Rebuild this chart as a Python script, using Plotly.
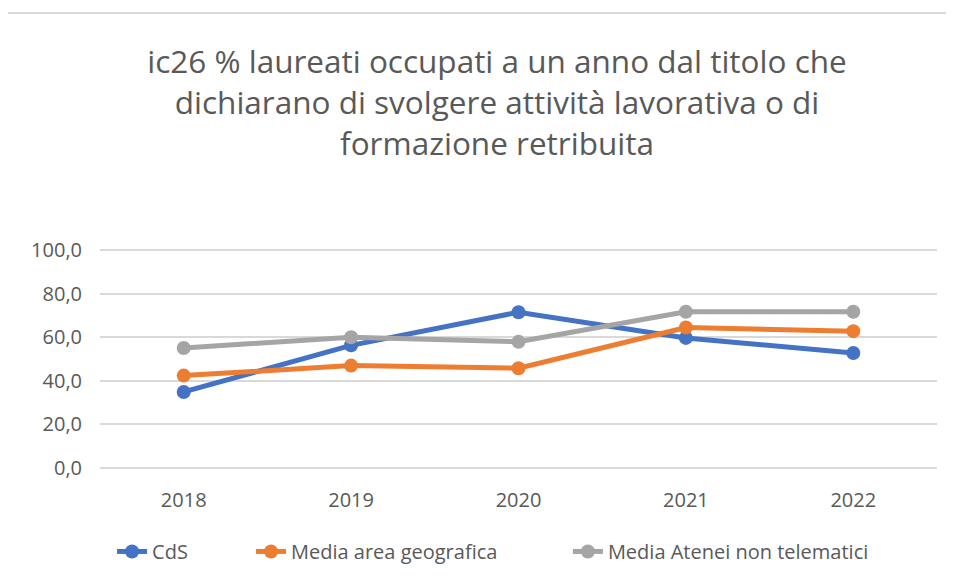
import plotly.graph_objects as go

# Values
anni = ["2018", "2019", "2020", "2021", "2022"]
cds = [34.9, 56.3, 71.5, 59.7, 52.8]
media_area = [42.4, 47.0, 45.8, 64.5, 62.8]
media_atenei = [55.1, 60.0, 57.9, 71.7, 71.7]

serie = [
    ("CdS", cds, "#4472C4"),
    ("Media area geografica", media_area, "#ED7D31"),
    ("Media Atenei non telematici", media_atenei, "#A5A5A5"),
]

FONT = "Open Sans"
GRIGIO = "#595959"

# the page puts the figure 8px in from the top-left corner, so the
# figure is 8px smaller and the margins are shifted to compensate
W, H = 946, 576
ML, MR, MT, MB = 92, 17, 241, 116

fig = go.Figure()
legend_keys = ["legend", "legend2", "legend3"]
for (nome, valori, colore), lk in zip(serie, legend_keys):
    fig.add_trace(go.Scatter(
        x=anni, y=valori, name=nome, mode="lines+markers",
        line=dict(color=colore, width=5),
        marker=dict(color=colore, size=14),
        legend=lk,
    ))

leg_common = dict(orientation="h", xanchor="left", y=-0.381, yanchor="middle",
                  font=dict(family=FONT, size=20, color=GRIGIO), bgcolor="rgba(0,0,0,0)")

fig.update_layout(
    width=W, height=H,
    margin=dict(l=ML, r=MR, t=MT, b=MB),
    paper_bgcolor="white", plot_bgcolor="white",
    font=dict(family=FONT, color=GRIGIO, size=20),
    title=dict(
        text="ic26 % laureati occupati a un anno dal titolo che<br>"
             "dichiarano di svolgere attività lavorativa o di<br>formazione retribuita",
        x=(497 - 8) / W, xanchor="center", xref="container",
        y=1 - 65 / H, yanchor="middle", yref="container",
        font=dict(family=FONT, size=31.5, color=GRIGIO),
    ),
    showlegend=True,
    legend=dict(x=0.0144, **leg_common),
    legend2=dict(x=0.1804, **leg_common),
    legend3=dict(x=0.559, **leg_common),
    shapes=[dict(type="rect", xref="paper", yref="paper",
                 x0=-0.1135, x1=1.05, y0=-0.6, y1=2.078,
                 line=dict(color="#d9d9d9", width=2), layer="below")],
    separators=",.",
)
fig.update_xaxes(type="category", range=[-0.5, 4.5], showgrid=False,
                 showline=False, ticks="", ticklabelstandoff=18,
                 tickfont=dict(size=20, color=GRIGIO))
fig.update_yaxes(range=[0, 100.5], dtick=20, tickformat=".1f",
                 gridcolor="#d9d9d9", gridwidth=1.5, zeroline=True,
                 zerolinecolor="#d9d9d9", zerolinewidth=1.5, showline=False,
                 ticks="", ticklabelstandoff=17, tickfont=dict(size=20, color=GRIGIO))

fig.write_html("out.html")
